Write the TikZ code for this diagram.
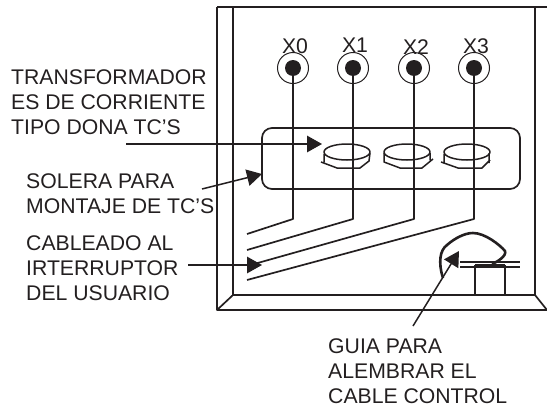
\documentclass[tikz,border=0pt]{standalone}
\usepackage{fontspec}
\setmainfont{Liberation Sans}
\usetikzlibrary{arrows.meta, shapes.geometric}
\definecolor{ink}{HTML}{231F20}

\begin{document}
\begin{tikzpicture}[x=1pt,y=-1pt,line join=round]
\tikzset{LabelStyle/.style = {anchor= west, align= left, inner sep= 0pt, text= ink, font= \fontsize{21.2}{25.2}\selectfont},
  TermOuter/.style = {draw= ink, circle, line width= 1pt, minimum size= 31pt, inner sep= 0pt},
  TermDot/.style = {fill= ink, circle, minimum size= 16pt, inner sep= 0pt},
  TermName/.style = {text= ink, inner sep= 0pt, font= \fontsize{21.2}{21.2}\selectfont},
  Wire/.style = {draw= ink, line width= 1.7pt},
  Pointer/.style = {draw= ink, line width= 1.5pt, -{Triangle[length= 15pt, width= 16.5pt]}},
  Toroid/.style = {draw= ink, line width= 1.5pt, ellipse, minimum width= 46pt, minimum height= 16pt, inner sep= 0pt},
  ToroidBody/.style = {draw= ink, line width= 1.5pt}
}
\useasboundingbox (0,0) rectangle (547,407);

    % Cabinet frame
    \coordinate (frameTL) at (217,7);
    \coordinate (frameTR) at (547,7);
    \coordinate (frameBL) at (217,310);
    \coordinate (frameBR) at (547,310);
    \coordinate (innerTL) at (233,7);
    \coordinate (innerTR) at (535,7);
    \coordinate (innerBL) at (233,295);
    \coordinate (innerBR) at (535,295);
    \draw [draw=ink, line width=2.2pt] (frameTL) -- (frameTR);
    \draw [draw=ink, line width=1.7pt] (frameTL) -- (frameBL) -- (frameBR);
    \draw [draw=ink, line width=1.7pt] (innerTL) -- (innerBL) -- (innerBR) -- (innerTR);
    \draw [draw=ink, line width=1.7pt] (frameBL) -- (innerBL);
    \draw [draw=ink, line width=1.7pt] (innerBR) -- (frameBR);

    % Plate
    \node[draw=ink, line width=1.7pt, rounded corners=10pt, minimum width=258pt, minimum height=61pt, inner sep=0pt] (solera) at (391,158.5) {};

    % Terminals
    \node[TermOuter] (t0) at (293,68) {};
    \node[TermOuter] (t1) at (353,68) {};
    \node[TermOuter] (t2) at (414,68) {};
    \node[TermOuter] (t3) at (474,68) {};
    \node[TermDot] (d0) at (t0.center) {};
    \node[TermDot] (d1) at (t1.center) {};
    \node[TermDot] (d2) at (t2.center) {};
    \node[TermDot] (d3) at (t3.center) {};
    \node[TermName] (x0) at (295,46) {X0};
    \node[TermName] (x1) at (355,45) {X1};
    \node[TermName] (x2) at (416,47) {X2};
    \node[TermName] (x3) at (476,46) {X3};

    % Current transformers
    \node[Toroid] (ring1) at (347,152) {};
    \node[Toroid] (ring2) at (407,152) {};
    \node[Toroid] (ring3) at (467,152) {};
    \draw [ToroidBody] (324,154) -- (324,162) (321,162) -- (337,168) -- (360,168) -- (369,161) -- (370,153);
    \draw [ToroidBody] (384,153) -- (384,162) -- (400,168) -- (422,168) -- (433,159) (430,160) -- (430,153);
    \draw [ToroidBody] (444,154) -- (444,163) (441,162) -- (458,168) -- (482,168) -- (490,160) (489,153) -- (489,163);

    % Wires
    \coordinate (w0) at (247,234);
    \coordinate (w1) at (247,250);
    \coordinate (w2) at (247,266);
    \coordinate (w3) at (247,280);
    \draw [Wire] (d0.center) -- +(0,151) -- (w0);
    \draw [Wire] (d1.center) -- +(0,151) -- (w1);
    \draw [Wire] (d2.center) -- +(0,151) -- (w2);
    \draw [Wire] (d3.center) -- +(0,151) -- (w3);

    % Guide for the control cable
    \draw [draw=ink, line width=2.6pt] (443,278) .. controls (438,262) and (440,250) .. (447,245) .. controls (455,238) and (465,233) .. (473,233) .. controls (485,233) and (500,245) .. (505,251) .. controls (507,256) and (497,262) .. (492,264);
    \draw [draw=ink, line width=2pt] (460,262) -- (520,262) (460,267) -- (520,267);
    \draw [draw=ink, line width=1.7pt] (475,265) -- (505,265) (475,265) -- (475,295) (505,265) -- (505,295);

    % Labels
    \node[LabelStyle] (trafo) at (11,102.5) {TRANSFORMADOR\\ES DE CORRIENTE\\TIPO DONA TC'S};
    \node[LabelStyle] (plate) at (26,194) {SOLERA PARA\\MONTAJE DE TC'S};
    \node[LabelStyle] (wiring) at (26,268) {CABLEADO AL\\IRTERRUPTOR\\DEL USUARIO};
    \node[LabelStyle] (guide) at (328,371) {GUIA PARA\\ALEMBRAR EL\\CABLE CONTROL};

    % Pointers
    \coordinate (p1a) at (126,144);
    \coordinate (p1b) at (322,144);
    \coordinate (p2a) at (202,189);
    \coordinate (p2b) at (262,174);
    \coordinate (p3a) at (188,265);
    \coordinate (p3b) at (262,265);
    \coordinate (p4a) at (413,326);
    \coordinate (p4b) at (459,251);
    \draw [Pointer] (p1a) -- (p1b);
    \draw [Pointer] (p2a) -- (p2b);
    \draw [Pointer] (p3a) -- (p3b);
    \draw [Pointer] (p4a) -- (p4b);
\end{tikzpicture}
\end{document}
